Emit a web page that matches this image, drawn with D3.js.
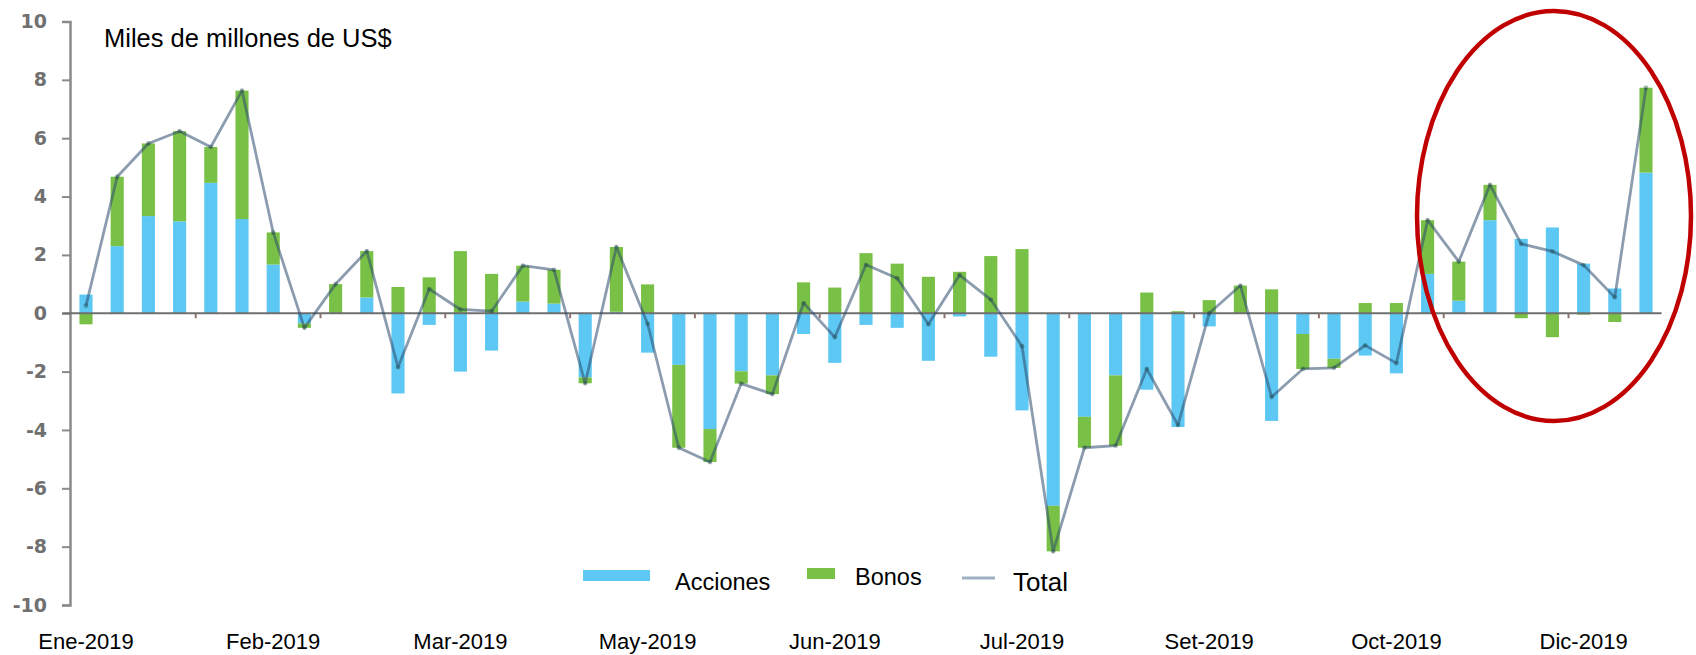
<!DOCTYPE html>
<html>
<head>
<meta charset="utf-8">
<script src="https://cdn.jsdelivr.net/npm/d3@7"></script>
<style>
  body { margin: 0; background: #fff; }
  svg { display: block; font-family: "Liberation Sans", Arial, sans-serif; }
</style>
</head>
<body>
<svg id="chart"></svg>
<script>
// weekly flows, 2019 (miles de millones de US$)
const weeks = [1, 2, 3, 4, 5, 6, 7, 8, 9, 10, 11, 12, 13, 14, 15, 16, 17,
  18, 19, 20, 21, 22, 23, 24, 25, 26, 27, 28, 29, 30, 31, 32, 33, 34,
  35, 36, 37, 38, 39, 40, 41, 42, 43, 44, 45, 46, 47, 48, 49, 50, 51];

const acciones = [0.64, 2.3, 3.33, 3.15, 4.47, 3.23, 1.67, -0.35, 0, 0.54,
  -2.75, -0.4, -2.0, -1.28, 0.4, 0.33, -2.2, 0.05, -1.35, -1.77,
  -3.97, -1.99, -2.13, -0.71, -1.7, -0.4, -0.5, -1.63, -0.11, -1.49,
  -3.33, -6.6, -3.55, -2.13, -2.62, -3.9, -0.45, 0, -3.69, -0.71,
  -1.56, -1.45, -2.06, 1.35, 0.43, 3.19, 2.55, 2.94, 1.7, 0.85, 4.82];

const bonos = [-0.38, 2.38, 2.49, 3.09, 1.23, 4.4, 1.1, -0.15, 1.0, 1.59,
  0.9, 1.23, 2.13, 1.35, 1.23, 1.16, -0.2, 2.22, 0.99, -2.84,
  -1.13, -0.42, -0.64, 1.06, 0.88, 2.06, 1.7, 1.25, 1.42, 1.96,
  2.2, -1.56, -1.06, -2.41, 0.71, 0.07, 0.45, 0.95, 0.82, -1.2,
  -0.31, 0.35, 0.35, 1.84, 1.34, 1.21, -0.17, -0.82, -0.05, -0.3, 2.91];

const total = [0.26, 4.68, 5.82, 6.24, 5.7, 7.63, 2.77, -0.5, 1.0, 2.13,
  -1.85, 0.83, 0.13, 0.07, 1.63, 1.49, -2.4, 2.27, -0.36, -4.61,
  -5.1, -2.41, -2.77, 0.35, -0.82, 1.66, 1.2, -0.38, 1.31, 0.47,
  -1.13, -8.16, -4.61, -4.54, -1.91, -3.83, 0.0, 0.95, -2.87, -1.91,
  -1.87, -1.1, -1.71, 3.19, 1.77, 4.4, 2.38, 2.12, 1.65, 0.55, 7.73];

const monthLabels = ['Ene-2019', 'Feb-2019', 'Mar-2019', 'May-2019', 'Jun-2019',
  'Jul-2019', 'Set-2019', 'Oct-2019', 'Dic-2019'];
const labelWeeks = [1, 7, 13, 19, 25, 31, 37, 43, 49];
const tickBreaks = [4, 8, 12, 16, 20, 24, 28, 32, 36, 40, 44, 48];
const yTicks = [-10, -8, -6, -4, -2, 0, 2, 4, 6, 8, 10];

const width = 1696;
const height = 655;
const plotLeft = 70.4, plotRight = 1661.6;
const plotTop = 21.5, plotBottom = 605;

const blue = '#5cc8f3';
const green = '#79c146';
const lineColor = 'rgba(45,75,110,0.55)';

const svg = d3.select('#chart')
  .attr('width', width)
  .attr('height', height);

const rows = weeks.map((w, i) => ({ week: w, acciones: acciones[i], bonos: bonos[i] }));

const x = d3.scaleBand()
  .domain(weeks)
  .range([plotLeft, plotRight])
  .paddingInner(0.58)
  .paddingOuter(0.29);

const xb = d3.scaleLinear()
  .domain([0, weeks.length])
  .range([plotLeft, plotRight]);

const y = d3.scaleLinear()
  .domain([-10, 10])
  .range([plotBottom, plotTop]);

// y axis (plain hyphen for negatives, like the original)
const yAxis = svg.append('g')
  .attr('transform', `translate(${plotLeft - 0.4},0)`)
  .call(d3.axisLeft(y).tickValues(yTicks).tickSize(8).tickPadding(15).tickSizeOuter(8)
    .tickFormat(d => String(d)));
yAxis.select('.domain').attr('stroke', '#8a8a8a').attr('stroke-width', 2.5);
yAxis.selectAll('.tick line').attr('stroke', '#8a8a8a').attr('stroke-width', 2);
yAxis.selectAll('.tick text')
  .attr('font-family', '"DejaVu Sans", Verdana, sans-serif')
  .attr('font-weight', 'bold')
  .attr('font-size', 19)
  .attr('fill', '#707070');

// stacked bars
const series = d3.stack()
  .keys(['acciones', 'bonos'])
  .offset(d3.stackOffsetDiverging)(rows);

const colors = { acciones: blue, bonos: green };

svg.append('g')
  .selectAll('g')
  .data(series)
  .join('g')
  .attr('fill', d => colors[d.key])
  .selectAll('rect')
  .data(d => d)
  .join('rect')
  .attr('x', d => x(d.data.week))
  .attr('y', d => y(Math.max(d[0], d[1])))
  .attr('height', d => Math.abs(y(d[0]) - y(d[1])))
  .attr('width', x.bandwidth());

// zero line and small ticks
svg.append('line')
  .attr('x1', plotLeft - 8)
  .attr('x2', plotRight)
  .attr('y1', y(0))
  .attr('y2', y(0))
  .attr('stroke', '#6f6f6f')
  .attr('stroke-width', 2);

const xTicks = svg.append('g')
  .attr('transform', `translate(0,${y(0)})`)
  .call(d3.axisBottom(xb).tickValues(tickBreaks).tickSize(5).tickFormat(''));
xTicks.select('.domain').remove();
xTicks.selectAll('.tick line').attr('stroke', '#8c7470').attr('stroke-width', 2);

// month labels
const xAxis = svg.append('g')
  .attr('transform', 'translate(0,630)')
  .call(d3.axisBottom(x).tickValues(labelWeeks).tickSize(0).tickPadding(3)
    .tickFormat(w => monthLabels[labelWeeks.indexOf(w)]));
xAxis.select('.domain').remove();
xAxis.selectAll('.tick text')
  .attr('font-family', '"Liberation Sans", Arial, sans-serif')
  .attr('font-size', 22)
  .attr('fill', '#000');

// total line
const cx = w => x(w) + x.bandwidth() / 2;
const line = d3.line()
  .x((d, i) => cx(weeks[i]))
  .y(d => y(d));

svg.append('path')
  .datum(total)
  .attr('fill', 'none')
  .attr('stroke', lineColor)
  .attr('stroke-width', 2.8)
  .attr('stroke-linejoin', 'round')
  .attr('d', line);

svg.append('g')
  .selectAll('circle')
  .data(total)
  .join('circle')
  .attr('cx', (d, i) => cx(weeks[i]))
  .attr('cy', d => y(d))
  .attr('r', 2.4)
  .attr('fill', 'rgba(20,60,55,0.35)');

// title
svg.append('text')
  .attr('x', 104)
  .attr('y', 47)
  .attr('font-size', 25.5)
  .attr('fill', '#000')
  .text('Miles de millones de US$');

// legend
const legend = svg.append('g');
legend.append('rect').attr('x', 583).attr('y', 570).attr('width', 67).attr('height', 11).attr('fill', blue);
legend.append('text').attr('x', 675).attr('y', 590).attr('font-size', 23.5).text('Acciones');
legend.append('rect').attr('x', 807).attr('y', 568).attr('width', 28).attr('height', 11).attr('fill', green);
legend.append('text').attr('x', 855).attr('y', 585).attr('font-size', 23.5).text('Bonos');
legend.append('line').attr('x1', 962).attr('x2', 995).attr('y1', 578).attr('y2', 578)
  .attr('stroke', '#9fb0c2').attr('stroke-width', 3);
legend.append('text').attr('x', 1013).attr('y', 591).attr('font-size', 26).text('Total');

// highlight
svg.append('ellipse')
  .attr('cx', 1554)
  .attr('cy', 216)
  .attr('rx', 137)
  .attr('ry', 205)
  .attr('fill', 'none')
  .attr('stroke', '#c00000')
  .attr('stroke-width', 4.5);
</script>
</body>
</html>
